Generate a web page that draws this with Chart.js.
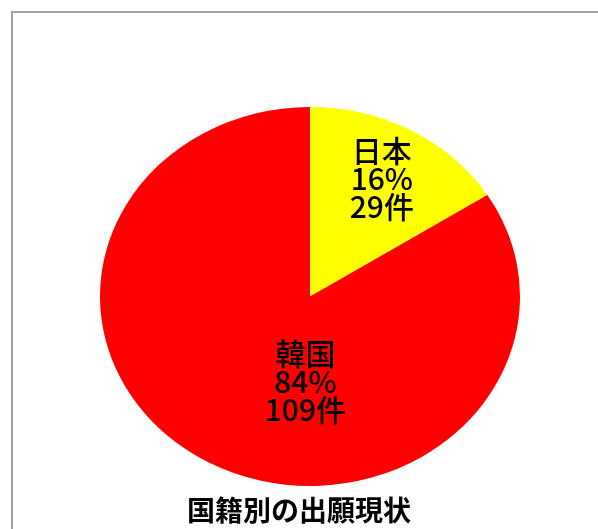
<!DOCTYPE html>
<html>
<head>
<meta charset="utf-8">
<script src="https://cdn.jsdelivr.net/npm/chart.js@4.4.0/dist/chart.umd.min.js"></script>
<style>
  body { margin: 0; background: #fff; }
  #wrap { position: relative; width: 598px; height: 529px; overflow: hidden; }
  #marco { position: absolute; left: 11px; top: 11px; width: 640px; height: 640px; border: 2px solid #a0a0a0; box-sizing: border-box; }
  #grafica { position: absolute; left: 0; top: 0; }
</style>
</head>
<body>
<div id="wrap">
  <div id="marco"></div>
  <canvas id="grafica" width="598" height="529"></canvas>
</div>
<script>
const paises = ["日本", "韓国"];
const porcentajes = [16, 84];
const casos = [29, 109];
const colores = ["#FFFF00", "#FF0000"];
const titulo = "国籍別の出願現状";

// el pastel original es una elipse, se estira en x
const escalaX = 210 / 189.5;

const etiquetasPastel = {
  id: "etiquetasPastel",
  beforeDatasetsDraw(chart) {
    const arco = chart.getDatasetMeta(0).data[0];
    const ctx = chart.ctx;
    ctx.save();
    ctx.translate(arco.x, arco.y);
    ctx.scale(escalaX, 1);
    ctx.translate(-arco.x, -arco.y);
  },
  afterDatasetsDraw(chart, args, opts) {
    const ctx = chart.ctx;
    ctx.restore();

    const meta = chart.getDatasetMeta(0);
    ctx.save();
    ctx.fillStyle = "#000";
    ctx.font = "500 30px 'Noto Sans CJK JP'";
    ctx.textAlign = "center";
    ctx.textBaseline = "middle";
    meta.data.forEach((arco, i) => {
      const medio = (arco.startAngle + arco.endAngle) / 2;
      const f = opts.radios[i];
      const x = arco.x + Math.cos(medio) * arco.outerRadius * f * escalaX + opts.despX[i];
      const y = arco.y + Math.sin(medio) * arco.outerRadius * f;
      const lineas = [paises[i], porcentajes[i] + "%", casos[i] + "件"];
      lineas.forEach((t, j) => {
        ctx.fillText(t, x, y + (j - 1) * 28);
      });
    });

    // titulo abajo
    ctx.font = "bold 28px 'Noto Sans CJK JP'";
    ctx.fillText(titulo, 299, 510);
    ctx.restore();
  }
};

new Chart(document.getElementById("grafica"), {
  type: "pie",
  data: {
    labels: paises,
    datasets: [{
      data: porcentajes,
      backgroundColor: colores,
      borderWidth: 0
    }]
  },
  options: {
    responsive: false,
    animation: false,
    events: [],
    layout: {
      padding: { top: 107, bottom: 43, left: 100, right: 78 }
    },
    plugins: {
      legend: { display: false },
      tooltip: { enabled: false },
      title: { display: false },
      etiquetasPastel: {
        radios: [0.71, 0.51],
        despX: [0, 47]
      }
    }
  },
  plugins: [etiquetasPastel]
});
</script>
</body>
</html>
